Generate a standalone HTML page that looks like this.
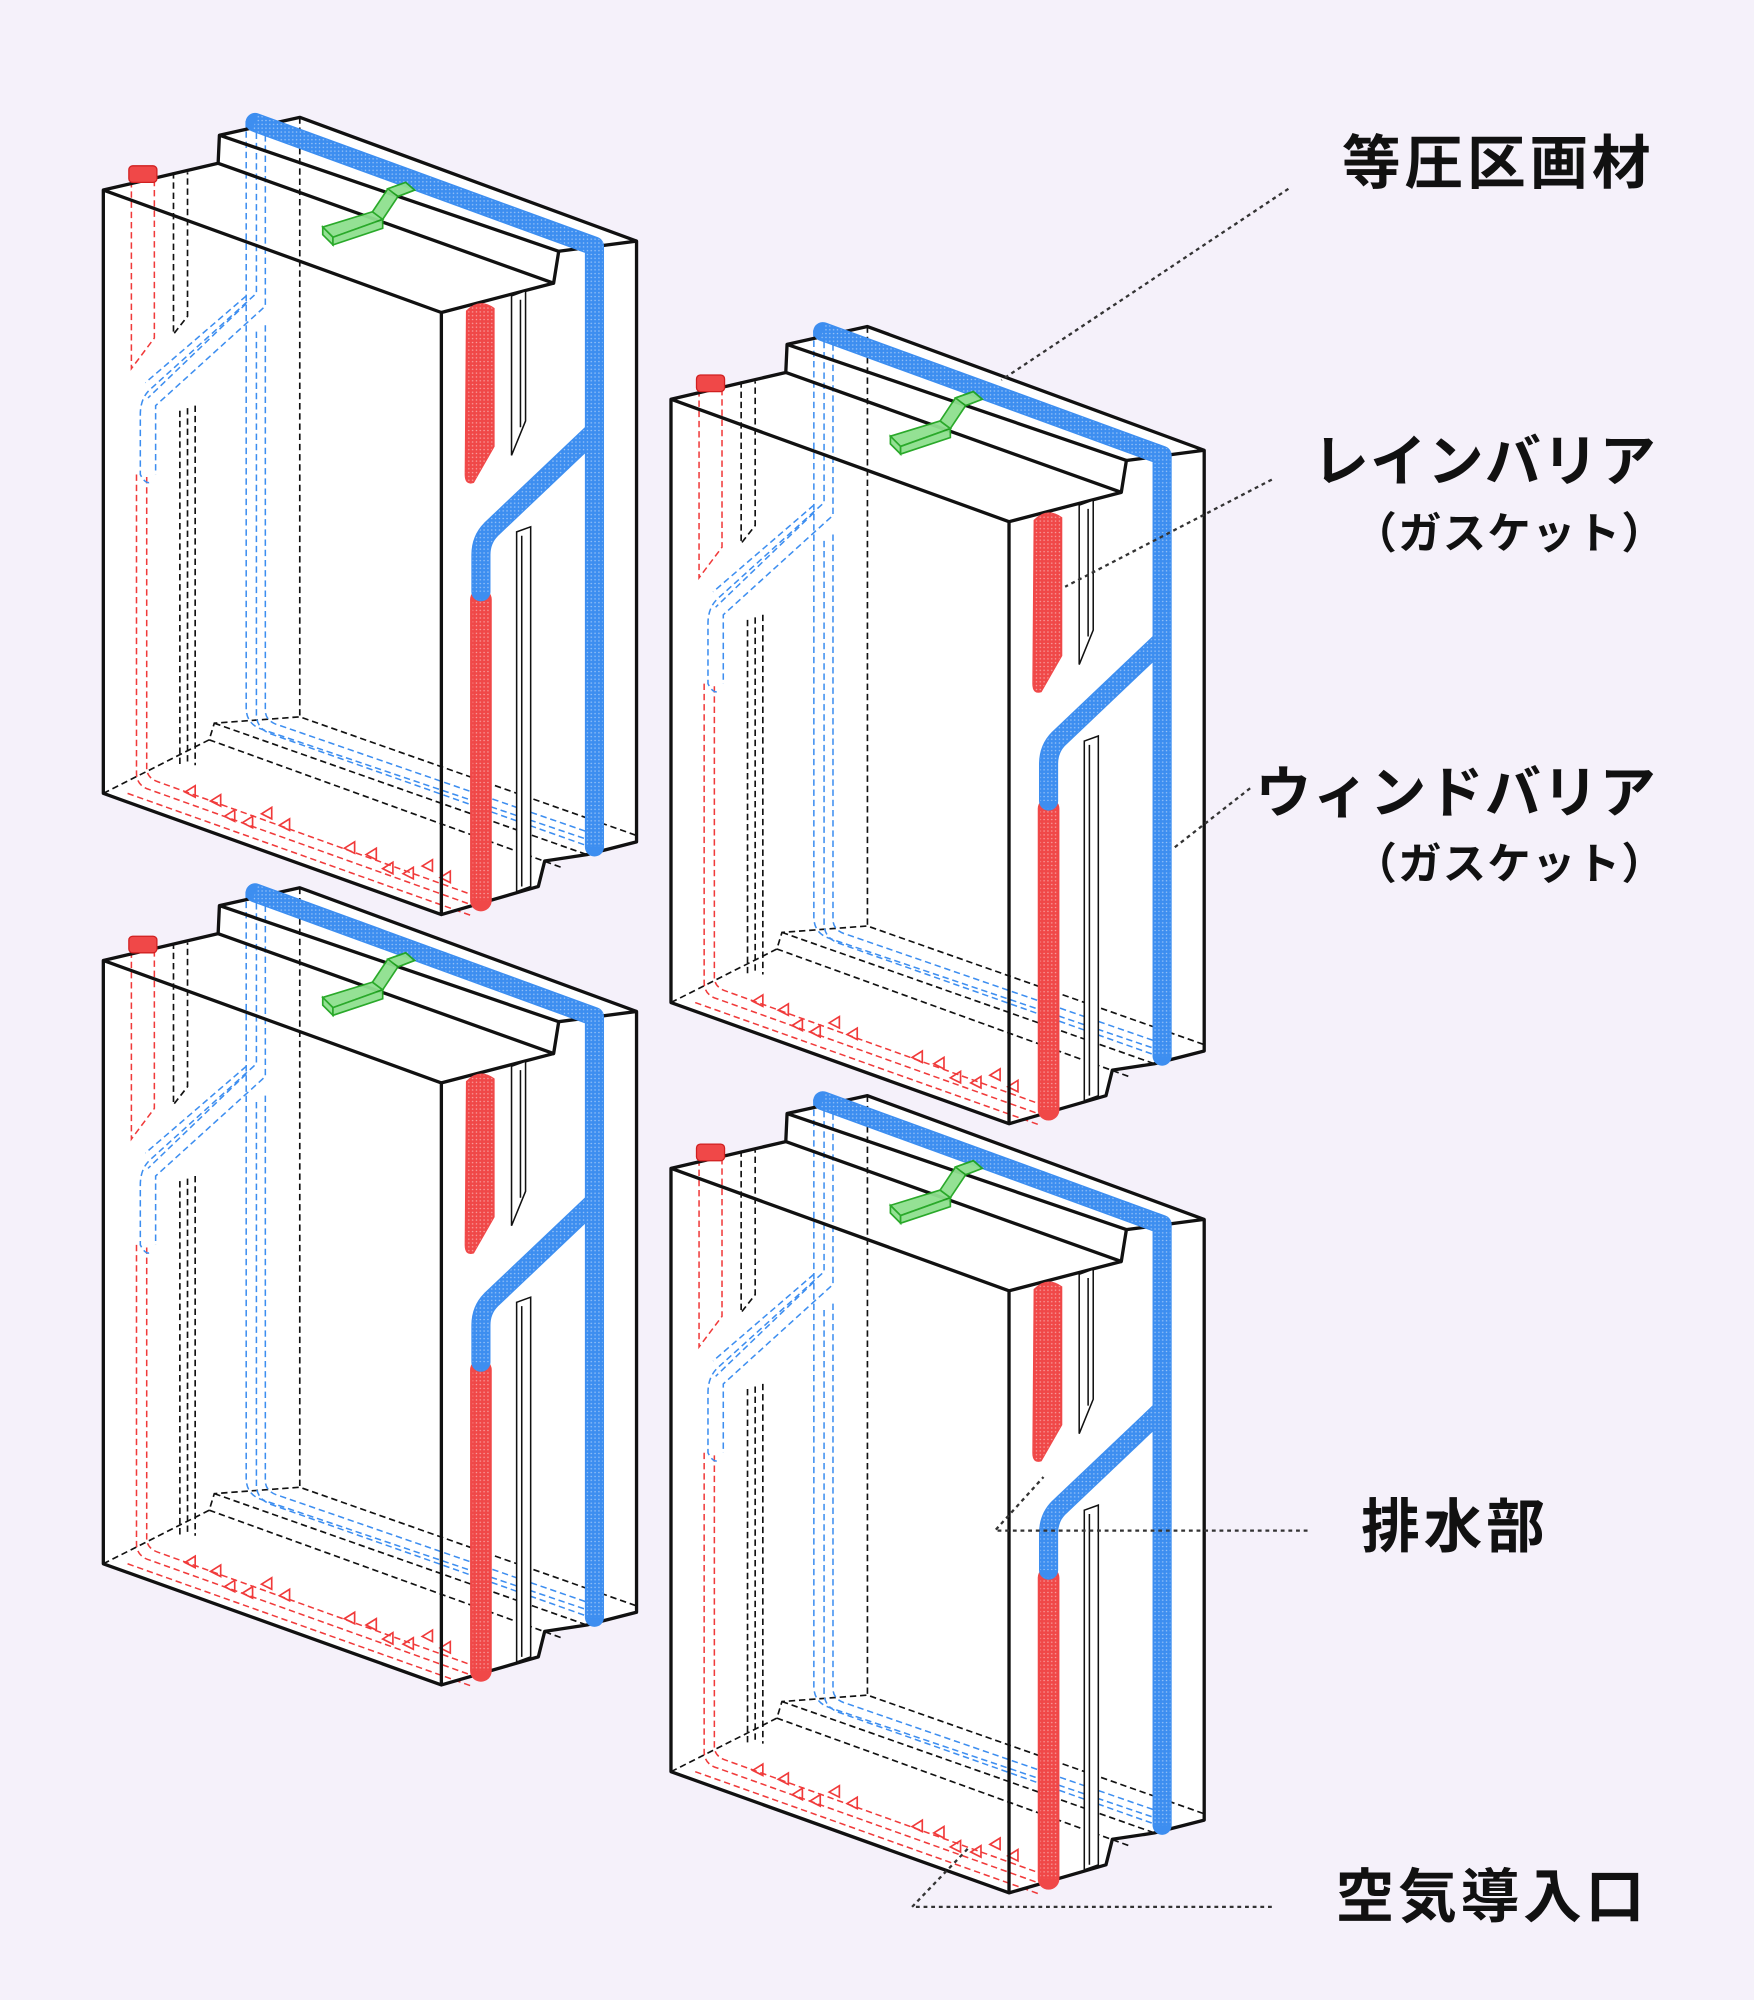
<!DOCTYPE html>
<html><head><meta charset="utf-8"><style>
html,body{margin:0;padding:0;background:#f5f1fa;}
svg{display:block}
text{font-family:"Liberation Sans","Noto Sans CJK JP",sans-serif;font-weight:bold;fill:#111}
</style></head><body>
<svg width="1754" height="2000" viewBox="0 0 1375 1568" preserveAspectRatio="none" xmlns="http://www.w3.org/2000/svg">
<defs>
<pattern id="dots" width="3" height="3" patternUnits="userSpaceOnUse"><circle cx="1.5" cy="1.5" r="0.6" fill="#fff" opacity="0.5"/></pattern>
<g id="p">
  <path d="M81,149 L171,128 L172,106 L235,92 L499,189 L499,660 L460,670 L427,675 L422,695 L346,717 L81,622 Z" fill="#fff"/>
  <g fill="none" stroke="#111" stroke-width="1.3" stroke-dasharray="5,3">
    <path d="M235,92 L235,562"/>
    <path d="M81,622 L164,580 L168,567 L235,562 L499,655"/>
    <path d="M164,580 L440,680"/>
    <path d="M168,567 L460,670"/>
    <path d="M136,135 L136,262 L147,248 L147,135"/>
    <path d="M141,322 L141,602 M147,320 L147,600 M153,318 L153,600"/>
  </g>
  <g fill="none" stroke="#f03a3a" stroke-width="1.2" stroke-dasharray="5,3">
    <path d="M103,142 L103,289 L121,265 L121,142"/>
    <path d="M107,372 L107,606 Q107,616 117,619 L377,712"/>
    <path d="M115,374 L115,602 Q115,610 124,613 L377,704"/>
    <path d="M100,622 L370,718"/>
  </g>
  <g fill="none" stroke="#f03a3a" stroke-width="1.3">
    <path d="M145,621 l8,-5 l0,9 z M165,628 l8,-5 l0,9 z M176,640 l8,-5 l0,9 z M190,645 l8,-5 l0,9 z M205,638 l8,-5 l0,9 z M219,647 l8,-5 l0,9 z M270,665 l8,-5 l0,9 z M287,670 l8,-5 l0,9 z M300,681 l8,-5 l0,9 z M316,685 l8,-5 l0,9 z M331,679 l8,-5 l0,9 z M345,688 l8,-5 l0,9 z"/>
  </g>
  <g fill="none" stroke="#3d8ef0" stroke-width="1.2" stroke-dasharray="5,3">
    <path d="M193,95 L193,555 Q193,568 206,572 L460,658"/>
    <path d="M201,96 L201,230 L118,305 Q110,312 110,325 L110,372 Q114,380 118,378"/>
    <path d="M201,260 L201,560 Q201,572 214,576 L460,663"/>
    <path d="M208,98 L208,240 L122,318 L122,372 M208,255 L208,557 Q208,566 220,569 L460,652"/>
    <path d="M193,232 L114,300 M193,238 L116,312"/>
  </g>
  <g fill="none" stroke="#111" stroke-width="2.6" stroke-linejoin="round">
    <path d="M81,149 L171,128 L172,106 L235,92 L499,189 L499,660 L460,670 L427,675 L422,695 L346,717 L81,622 Z"/>
    <path d="M81,149 L346,245 L346,717"/>
    <path d="M171,128 L434,222 L438,197 L172,106"/>
    <path d="M346,245 L434,222 M438,197 L499,189"/>
  </g>
  <g fill="#fff" stroke="#111" stroke-width="1.2">
    <path d="M401,232 L412,228 L412,330 L401,357 Z"/>
    <path d="M405,417 L416,413 L416,695 L405,699 Z"/>
    <path d="M408,235 L408,335 M409,420 L409,695"/>
  </g>
  <path d="M366,244 Q376,234 387,242 L387,350 L371,378 Q365,380 365,372 Z" fill="#f04848" stroke="#f04848" stroke-width="1.5"/>
  <path d="M366,244 Q376,234 387,242 L387,350 L371,378 Q365,380 365,372 Z" fill="url(#dots)"/>
  <path d="M377,470 L377,706" stroke="#f04848" stroke-width="17" stroke-linecap="round" fill="none"/>
  <path d="M200,96 L466,193 L466,664 M464,340 L385,415 Q377,423 377,435 L377,464" stroke="#3d8ef0" stroke-width="15" stroke-linecap="round" stroke-linejoin="round" fill="none"/>
  <path d="M377,470 L377,706 M200,96 L466,193 L466,664 M464,340 L385,415 Q377,423 377,435 L377,464" stroke="url(#dots)" stroke-width="13" fill="none"/>
  <rect x="101" y="130" width="22" height="13" rx="3" fill="#f04848" stroke="#d02020" stroke-width="1"/>
  <g fill="#8fe08f" stroke="#1fa51f" stroke-width="1.3" opacity="0.95">
    <path d="M253,178 L292,166 L300,172 L261,186 Z"/>
    <path d="M253,178 L261,186 L261,192 L253,184 Z"/>
    <path d="M261,186 L300,172 L300,179 L261,192 Z"/>
    <path d="M292,166 L304,148 L318,143 L325,149 L312,154 L300,172 Z"/>
    <path d="M304,148 L318,143 L325,149 L312,154 Z"/>
  </g>
</g>
</defs>
<rect width="1375" height="1568" fill="#f5f1fa"/>
<use href="#p"/>
<use href="#p" transform="translate(445,164)"/>
<use href="#p" transform="translate(0,604)"/>
<use href="#p" transform="translate(445,767)"/>
<g fill="none" stroke="#333" stroke-width="1.8" stroke-dasharray="3,3">
  <path d="M1010,148 L785,298"/>
  <path d="M997,376 L835,460"/>
  <path d="M980,618 L920,665"/>
  <path d="M1025,1200 L780,1200 L818,1158"/>
  <path d="M997,1495 L715,1495 L760,1448"/>
</g>
<text x="1297" y="144" font-size="46" letter-spacing="3" text-anchor="end">等圧区画材</text>
<text x="1299" y="377" font-size="44" letter-spacing="1" text-anchor="end">レインバリア</text>
<text x="1306" y="430" font-size="34" letter-spacing="1" text-anchor="end">（ガスケット）</text>
<text x="1299" y="637" font-size="44" letter-spacing="1" text-anchor="end">ウィンドバリア</text>
<text x="1306" y="689" font-size="34" letter-spacing="1" text-anchor="end">（ガスケット）</text>
<text x="1214" y="1213" font-size="46" letter-spacing="3" text-anchor="end">排水部</text>
<text x="1292" y="1503" font-size="46" letter-spacing="3" text-anchor="end">空気導入口</text>
</svg>
</body></html>
